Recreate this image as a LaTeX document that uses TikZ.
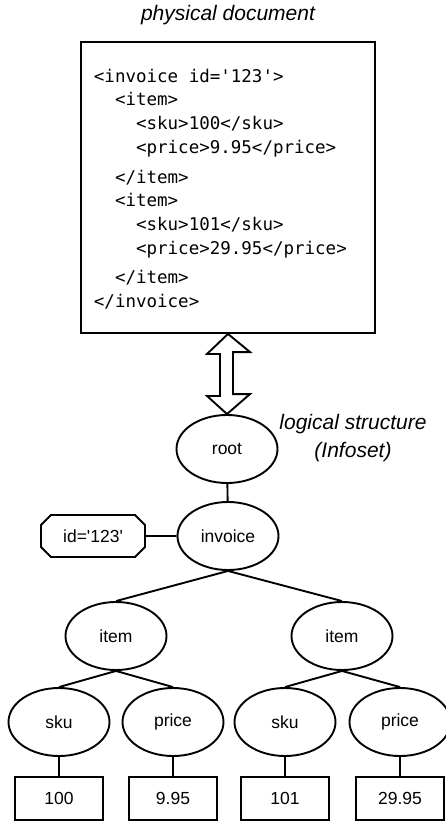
\documentclass[tikz,border=0pt]{standalone}
\usepackage{fontspec}
\setmainfont{Liberation Sans}
\newfontfamily\codefont{DejaVu Sans Mono}
\usetikzlibrary{shapes.geometric,shapes.misc}
\newcommand{\xmlindent}{\hphantom{xx}}

\begin{document}
\begin{tikzpicture}[
    x=1pt,y=-1pt,
    line width=1.9pt,
    elem/.style={ellipse,draw,minimum width=101pt,minimum height=68pt,
                 inner sep=0pt,font=\fontsize{17.5}{21}\selectfont},
    attr/.style={chamfered rectangle,chamfered rectangle xsep=11pt,draw,
                 minimum width=104pt,minimum height=42pt,inner sep=0pt,
                 font=\fontsize{17.5}{21}\selectfont},
    val/.style={rectangle,draw,minimum width=88pt,minimum height=43pt,
                inner sep=0pt,font=\fontsize{17.5}{21}\selectfont},
    doc/.style={rectangle,draw,minimum width=294pt,minimum height=291pt},
    code/.style={inner sep=0pt,align=left,
                 font=\codefont\fontsize{17.5}{23.7}\selectfont},
    caption/.style={font=\fontsize{21}{28}\selectfont\itshape,align=center},
    bigarr/.style={draw,line join=miter}
  ]
  \useasboundingbox (0,0) rectangle (445,821);
  %% Physical document
  \node[caption] (phys) at (228,15) {physical document};
  \node[doc] (box) at (228,187.5) {};
  \node[code,anchor=north west] (xml) at (93,68)
    {<invoice id=\textquotesingle123\textquotesingle>\\
     \xmlindent<item>\\
     \xmlindent\xmlindent<sku>100</sku>\\
     \xmlindent\xmlindent<price>9.95</price>\\[6pt]
     \xmlindent</item>\\
     \xmlindent<item>\\
     \xmlindent\xmlindent<sku>101</sku>\\
     \xmlindent\xmlindent<price>29.95</price>\\[6pt]
     \xmlindent</item>\\
     </invoice>};
  %% Logical structure
  \node[caption] (logic) at (353,438) {logical structure\\(Infoset)};
  \node[elem] (root)    at (227,449) {root};
  \node[elem] (invoice) at (228,536) {invoice};
  \node[attr] (id)      at (93,536)  {id=\textquotesingle123\textquotesingle};
  \node[elem] (item1)   at (116,636) {item};
  \node[elem] (item2)   at (342,636) {item};
  \node[elem] (sku1)    at (59,722)  {sku};
  \node[elem] (price1)  at (173,722) {price};
  \node[elem] (sku2)    at (285,722) {sku};
  \node[elem] (price2)  at (400,722) {price};
  %% Values
  \node[val] (v1) at (59,798.5)  {100};
  \node[val] (v2) at (173,798.5) {9.95};
  \node[val] (v3) at (285,798.5) {101};
  \node[val] (v4) at (400,798.5) {29.95};
  %% Two-way arrow between document and tree
  \draw[bigarr] (box.south) -- ++(-21,20) -- ++(13,0) -- ++(0,42)
    -- ++(-13,0) -- (root.north) -- ++(23,-20) -- ++(-17,0)
    -- ++(0,-42) -- ++(17,0) -- cycle;
  %% Tree edges
  \draw (root) -- (invoice);
  \draw (id) -- (invoice);
  \draw (invoice.south) -- (item1.north);
  \draw (invoice.south) -- (item2.north);
  \draw (item1.south) -- (sku1.north);
  \draw (item1.south) -- (price1.north);
  \draw (item2.south) -- (sku2.north);
  \draw (item2.south) -- (price2.north);
  \draw (sku1) -- (v1);
  \draw (price1) -- (v2);
  \draw (sku2) -- (v3);
  \draw (price2) -- (v4);
\end{tikzpicture}
\end{document}
